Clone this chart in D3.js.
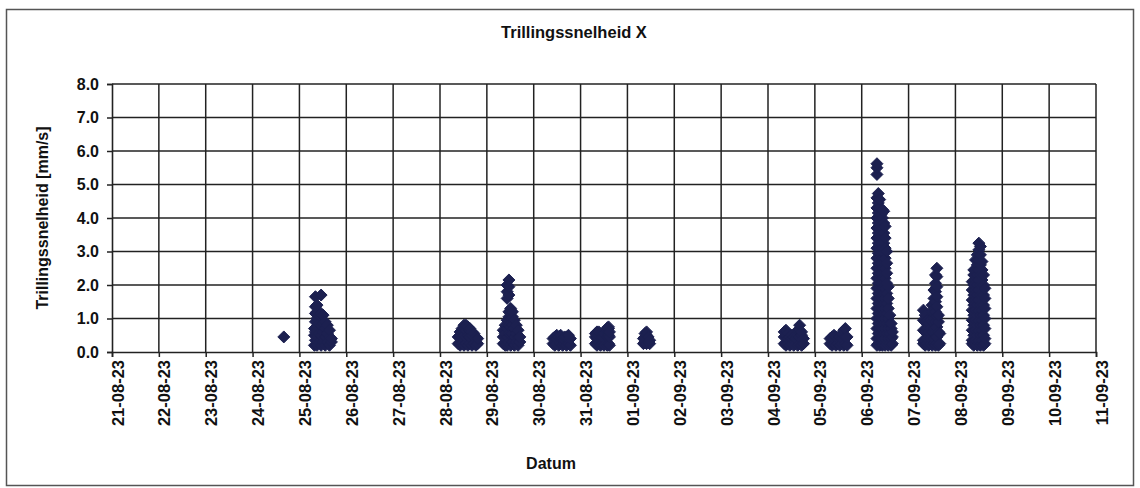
<!DOCTYPE html>
<html>
<head>
<meta charset="utf-8">
<script src="https://cdn.jsdelivr.net/npm/d3@7"></script>
<style>
html,body{margin:0;padding:0;background:#fff;}
svg{display:block;font-family:"Liberation Sans",Arial,sans-serif;}
</style>
</head>
<body>
<svg id="chart" width="1140" height="488"></svg>
<script>
// ---- data (hour of day, measured values) per measurement day ----
const title = "Trillingssnelheid X";
const yTitle = "Trillingssnelheid [mm/s]";
const xTitle = "Datum";
const yTicks = [0, 1, 2, 3, 4, 5, 6, 7, 8];
const xStart = "21-08-23";
const xEnd = "11-09-23";

const day0824 = [[16.0,[0.45]]];
const day0825 = [
  [7.7,[0.2,0.5,0.7]],
  [8.2,[0.35,0.6,0.9,1.15,1.35,1.65]],
  [9.0,[0.2,0.45,0.75,1.0,1.2,1.4]],
  [10.0,[0.3,0.55,0.85,1.1]],
  [11.1,[0.2,0.5,0.8,1.05,1.15,1.7]],
  [12.1,[0.3,0.6,0.85,1.1]],
  [13.2,[0.2,0.45,0.7,0.9]],
  [14.3,[0.3,0.55,0.8]],
  [15.4,[0.2,0.45,0.65]],
  [16.4,[0.3,0.4]]
];
const day0828 = [
  [9.3,[0.25,0.45]],
  [10.3,[0.2,0.5,0.6]],
  [11.3,[0.25,0.45,0.65,0.7]],
  [12.3,[0.2,0.5,0.7,0.8]],
  [13.3,[0.25,0.45,0.65,0.8]],
  [14.3,[0.2,0.5,0.7,0.75]],
  [15.3,[0.25,0.45,0.65,0.7]],
  [16.4,[0.2,0.5,0.6]],
  [17.4,[0.25,0.45,0.55]],
  [18.4,[0.2,0.45]],
  [19.3,[0.25,0.4]]
];
const day0829 = [
  [8.4,[0.25,0.45,0.65]],
  [9.4,[0.2,0.55,0.8]],
  [10.4,[0.2,0.45,0.7,0.95,1.6,1.8,2.0]],
  [11.3,[0.3,0.55,0.8,1.05,1.2,1.7,1.95,2.15]],
  [12.2,[0.2,0.5,0.75,1.0,1.25,1.3]],
  [13.1,[0.3,0.55,0.8,1.05,1.2]],
  [14.1,[0.2,0.45,0.7,0.95]],
  [15.1,[0.3,0.55,0.8]],
  [16.0,[0.2,0.45,0.65]],
  [16.9,[0.3,0.45]]
];
const day0830 = [
  [9.9,[0.25,0.4]],
  [10.8,[0.2,0.45]],
  [11.8,[0.25,0.4,0.5]],
  [12.8,[0.2,0.45]],
  [13.8,[0.25,0.4,0.5]],
  [14.8,[0.2,0.4]],
  [15.8,[0.25,0.35,0.45]],
  [16.8,[0.2,0.45]],
  [17.8,[0.25,0.4,0.5]],
  [18.8,[0.2,0.4]]
];
const day0831 = [
  [7.6,[0.25,0.45,0.55]],
  [8.4,[0.2,0.4,0.6]],
  [9.3,[0.25,0.5,0.6]],
  [10.2,[0.2,0.45]],
  [11.1,[0.25,0.45]],
  [12.0,[0.2,0.45,0.55]],
  [12.9,[0.25,0.5,0.65]],
  [13.7,[0.2,0.45,0.65,0.72]],
  [14.3,[0.25,0.5,0.7,0.75]],
  [14.8,[0.2,0.45,0.6]]
];
const day0901 = [
  [8.2,[0.25,0.4]],
  [9.0,[0.3,0.45,0.55]],
  [9.8,[0.25,0.5,0.6]],
  [10.6,[0.3,0.45]],
  [11.4,[0.25,0.35]]
];
const day0904 = [
  [8.3,[0.25,0.45,0.6]],
  [9.2,[0.2,0.5,0.65]],
  [10.2,[0.25,0.4,0.55]],
  [11.2,[0.2,0.45]],
  [12.2,[0.25,0.4,0.5]],
  [13.2,[0.2,0.45]],
  [14.2,[0.25,0.4,0.5]],
  [15.2,[0.2,0.5,0.65]],
  [16.2,[0.25,0.45,0.65,0.8]],
  [17.2,[0.2,0.5,0.6]],
  [18.2,[0.25,0.4]]
];
const day0905 = [
  [7.8,[0.25,0.4]],
  [8.8,[0.2,0.45]],
  [9.8,[0.25,0.4,0.5]],
  [10.8,[0.2,0.45]],
  [11.8,[0.25,0.4]],
  [12.8,[0.2,0.45]],
  [13.8,[0.25,0.4,0.55]],
  [14.8,[0.2,0.5,0.65]],
  [15.6,[0.25,0.45,0.7]],
  [16.5,[0.2,0.45]]
];
const day0906 = [
  [7.8,[0.2,0.4,0.7,1.0,1.3,1.6,1.9,2.2,2.5,2.8,3.1,3.4,3.7,4.0,4.3,4.6,5.3,5.5,5.62]],
  [8.5,[0.25,0.55,0.85,1.15,1.45,1.75,2.05,2.35,2.65,2.95,3.25,3.55,3.85,4.15,4.45,4.73]],
  [9.2,[0.2,0.4,0.7,1.0,1.3,1.6,1.9,2.2,2.5,2.8,3.1,3.4,3.7,4.0,4.3,4.55]],
  [9.9,[0.25,0.55,0.85,1.15,1.45,1.75,2.05,2.35,2.65,2.95,3.25,3.55,3.85,4.1]],
  [10.6,[0.2,0.4,0.7,1.0,1.3,1.6,1.9,2.2,2.5,2.8,3.1,3.4,3.7,4.0,4.25]],
  [11.3,[0.25,0.55,0.85,1.15,1.45,1.75,2.05,2.35,2.65,2.95,3.25,3.55,3.85,4.2]],
  [12.0,[0.2,0.4,0.7,1.0,1.3,1.6,1.9,2.2,2.5,2.8,3.1,3.4,3.75]],
  [12.8,[0.25,0.55,0.85,1.15,1.45,1.75,2.05,2.35,2.65,3.0]],
  [13.6,[0.2,0.4,0.7,1.0,1.3,1.6,1.95]],
  [14.4,[0.25,0.55,0.85,1.1]],
  [15.1,[0.2,0.4,0.7,0.85]],
  [15.7,[0.25,0.45,0.6]]
];
const day0907 = [
  [7.6,[0.25,0.35,0.65,0.95,1.25]],
  [8.5,[0.2,0.6,0.9,1.1]],
  [9.4,[0.25,0.4,0.7,0.95]],
  [10.3,[0.2,0.6,0.85]],
  [11.2,[0.25,0.4,0.7,0.95]],
  [12.1,[0.2,0.6,0.9,1.2,1.4]],
  [13.0,[0.25,0.4,0.7,1.0,1.3,1.6,1.85]],
  [13.8,[0.2,0.6,0.9,1.2,1.5,1.8,2.05,2.3]],
  [14.5,[0.25,0.45,0.75,1.05,1.35,1.65,1.95,2.25,2.5]],
  [15.3,[0.2,0.6,0.9,1.1]],
  [16.0,[0.25,0.55]]
];
const day0908 = [
  [8.6,[0.25,0.35,0.65,0.95,1.25,1.55,1.85,2.1]],
  [9.4,[0.2,0.5,0.8,1.1,1.4,1.7,2.0,2.3,2.45]],
  [10.3,[0.25,0.35,0.65,0.95,1.25,1.55,1.85,2.15,2.45,2.75]],
  [11.2,[0.2,0.5,0.8,1.1,1.4,1.7,2.0,2.3,2.6,2.9]],
  [12.0,[0.25,0.35,0.65,0.95,1.25,1.55,1.85,2.15,2.45,2.75,3.05,3.25]],
  [12.8,[0.2,0.5,0.8,1.1,1.4,1.7,2.0,2.3,2.6,2.9,3.15]],
  [13.6,[0.25,0.35,0.65,0.95,1.25,1.55,1.85,2.15,2.45,2.7]],
  [14.4,[0.2,0.5,0.8,1.1,1.4,1.7,2.0,2.3]],
  [15.1,[0.25,0.4,0.7,1.0,1.3,1.6,1.9]]
];

const measurementDays = [
  ["24-08-23", day0824], ["25-08-23", day0825], ["28-08-23", day0828],
  ["29-08-23", day0829], ["30-08-23", day0830], ["31-08-23", day0831],
  ["01-09-23", day0901], ["04-09-23", day0904], ["05-09-23", day0905],
  ["06-09-23", day0906], ["07-09-23", day0907], ["08-09-23", day0908]
];

// ---- build points ----
const parse = d3.timeParse("%d-%m-%y");
const points = [];
measurementDays.forEach(([ds, cols]) => {
  const base = parse(ds);
  cols.forEach(([h, vals]) => {
    const t = new Date(base.getTime() + h * 3600 * 1000);
    vals.forEach(v => points.push({t, v}));
  });
});

// ---- layout ----
const svg = d3.select("#chart");
const L = 112, R = 1096, T = 84, B = 352;
const x = d3.scaleTime().domain([parse(xStart), parse(xEnd)]).range([L, R]);
const y = d3.scaleLinear().domain([0, 8]).range([B, T]);
const days = d3.timeDay.range(parse(xStart), d3.timeDay.offset(parse(xEnd), 1));
const fmt = d3.timeFormat("%d-%m-%y");
const ink = "#222";

// outer frame
svg.append("rect").attr("x", 6.5).attr("y", 9.5).attr("width", 1127).attr("height", 476)
  .attr("fill", "none").attr("stroke", "#555").attr("stroke-width", 1.5);

// grid
svg.append("g").selectAll("line").data(yTicks.slice(1)).join("line")
  .attr("x1", L).attr("x2", R).attr("y1", d => y(d)).attr("y2", d => y(d))
  .attr("stroke", ink).attr("stroke-width", 1.5);
svg.append("g").selectAll("line").data(days.slice(1)).join("line")
  .attr("x1", d => x(d)).attr("x2", d => x(d)).attr("y1", T).attr("y2", B)
  .attr("stroke", ink).attr("stroke-width", 1.5);

// axes
const yAxis = svg.append("g").attr("transform", `translate(${L},0)`)
  .call(d3.axisLeft(y).tickValues(yTicks).tickSize(5).tickPadding(8).tickFormat(d3.format(".1f")));
const xAxis = svg.append("g").attr("transform", `translate(0,${B})`)
  .call(d3.axisBottom(x).tickValues(days).tickSize(5).tickFormat(fmt));
[yAxis, xAxis].forEach(g => {
  g.select(".domain").attr("stroke", ink).attr("stroke-width", 1.6);
  g.selectAll(".tick line").attr("stroke", ink).attr("stroke-width", 1.5);
  g.selectAll("text").attr("fill", "#111").attr("font-size", 16).attr("font-weight", "bold")
    .attr("font-family", "'Liberation Sans', Arial, sans-serif");
});
xAxis.selectAll(".tick text")
  .attr("font-size", 16.5)
  .attr("text-anchor", "end").attr("dy", null).attr("y", 0)
  .attr("transform", "translate(11,8) rotate(-90)");

// markers
const r = 6;
const diamond = `M0,${-r}L${r},0L0,${r}L${-r},0Z`;
svg.append("g").selectAll("path").data(points).join("path")
  .attr("d", diamond)
  .attr("transform", d => `translate(${x(d.t)},${y(d.v)})`)
  .attr("fill", "#1c2050").attr("stroke", "#1c2050").attr("stroke-width", 1);

// titles
svg.append("text").attr("x", 574).attr("y", 38).attr("text-anchor", "middle")
  .attr("font-size", 16.5).attr("font-weight", "bold").attr("fill", "#111").text(title);
svg.append("text").attr("transform", `translate(48,${(T + B) / 2}) rotate(-90)`)
  .attr("text-anchor", "middle").attr("font-size", 16).attr("font-weight", "bold")
  .attr("fill", "#111").text(yTitle);
svg.append("text").attr("x", 551).attr("y", 469).attr("text-anchor", "middle")
  .attr("font-size", 16).attr("font-weight", "bold").attr("fill", "#111").text(xTitle);
</script>
</body>
</html>
